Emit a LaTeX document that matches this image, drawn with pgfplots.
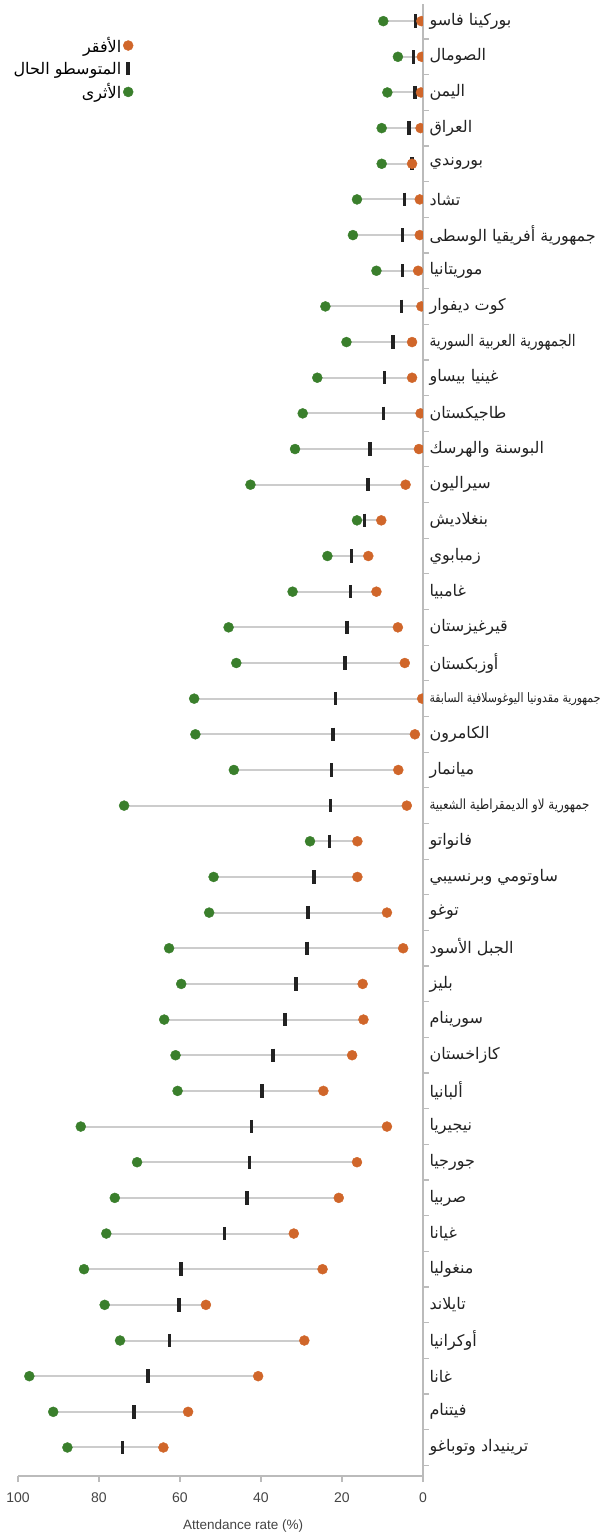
\documentclass[border=0pt]{standalone}
\usepackage{pgfplots}
\pgfplotsset{compat=1.18}
\usepackage{pgfplotstable}
\usepackage{fontspec}
\setmainfont{Liberation Sans}
\newfontfamily\arabicfont[Script=Arabic]{DejaVu Sans}
\TeXXeTstate=1
\definecolor{cgreen}{HTML}{3A7F2C}
\definecolor{corange}{HTML}{D0662A}
\definecolor{cbar}{HTML}{222222}
\definecolor{caxis}{HTML}{BBBBBB}
\definecolor{ctext}{HTML}{444444}

\pgfplotstableread{
idx rich mean poor
0 9.8 1.8 0.4
1 6.2 2.3 0.3
2 8.8 2.0 0.5
3 10.2 3.5 0.6
4 10.2 2.7 2.7
5 16.3 4.6 0.8
6 17.3 5.0 0.8
7 11.5 5.0 1.2
8 24.1 5.3 0.4
9 18.9 7.4 2.7
10 26.1 9.5 2.7
11 29.7 9.8 0.6
12 31.6 13.1 1.0
13 42.6 13.6 4.3
14 16.3 14.4 10.3
15 23.6 17.6 13.5
16 32.2 17.9 11.5
17 48.0 18.8 6.2
18 46.1 19.3 4.5
19 56.5 21.6 0.2
20 56.2 22.2 2.0
21 46.7 22.6 6.1
22 73.8 22.9 4.0
23 27.9 23.1 16.2
24 51.7 26.9 16.2
25 52.8 28.4 8.9
26 62.7 28.6 4.9
27 59.7 31.4 14.9
28 63.9 34.1 14.7
29 61.1 37.0 17.5
30 60.6 39.8 24.6
31 84.5 42.3 8.9
32 70.6 42.8 16.3
33 76.1 43.5 20.8
34 78.2 49.0 31.9
35 83.7 59.7 24.8
36 78.6 60.3 53.6
37 74.8 62.6 29.3
38 97.2 67.9 40.7
39 91.3 71.4 58.0
40 87.8 74.2 64.1
}\data

\begin{document}
\begin{tikzpicture}
\begin{axis}[
  at={(0,0)}, anchor=south west,
  scale only axis, width=405pt, height=1472pt,
  x dir=reverse, xmin=0, xmax=100,
  y dir=reverse, ymin=-0.48, ymax=40.8,
  clip marker paths=true,
  axis x line*=bottom, axis y line*=right,
  axis line style={caxis, line width=1.2pt},
  tick align=outside,
  tick style={caxis, line width=1.2pt},
  major tick length=6pt, minor tick length=6pt,
  xtick={0,20,...,100},
  /pgf/number format/assume math mode=true,
  xticklabel style={font=\fontsize{14}{16}\selectfont, text=ctext, yshift=-7pt},
  xlabel={Attendance rate (\%)},
  x label style={at={(axis description cs:0.556,0)}, anchor=north, inner sep=0pt, yshift=-43pt, font=\fontsize{13.5}{15}\selectfont, text=ctext},
  ytick={0,...,40},
  minor ytick={0.5,1.5,...,40.5},
  major y tick style={draw=none},
  yticklabel style={font=\arabicfont\fontsize{16}{19}\selectfont, text=cbar, anchor=west, xshift=-3pt},
  yticklabels={
    {\beginR بوركينا فاسو\endR},
    {\beginR الصومال\endR},
    {\beginR اليمن\endR},
    {\beginR العراق\endR},
    {\beginR بوروندي\endR},
    {\beginR تشاد\endR},
    {\beginR جمهورية أفريقيا الوسطى\endR},
    {\beginR موريتانيا\endR},
    {\beginR كوت ديفوار\endR},
    {\resizebox{146pt}{\height}{\beginR الجمهورية العربية السورية\endR}},
    {\beginR غينيا بيساو\endR},
    {\beginR طاجيكستان\endR},
    {\beginR البوسنة والهرسك\endR},
    {\beginR سيراليون\endR},
    {\beginR بنغلاديش\endR},
    {\beginR زمبابوي\endR},
    {\beginR غامبيا\endR},
    {\beginR قيرغيزستان\endR},
    {\beginR أوزبكستان\endR},
    {\resizebox{171pt}{\height}{\fontsize{13}{15}\selectfont\beginR جمهورية مقدونيا اليوغوسلافية السابقة\endR}},
    {\beginR الكامرون\endR},
    {\beginR ميانمار\endR},
    {\resizebox{160pt}{\height}{\fontsize{14}{16}\selectfont\beginR جمهورية لاو الديمقراطية الشعبية\endR}},
    {\beginR فانواتو\endR},
    {\beginR ساوتومي وبرنسيبي\endR},
    {\beginR توغو\endR},
    {\beginR الجبل الأسود\endR},
    {\beginR بليز\endR},
    {\beginR سورينام\endR},
    {\beginR كازاخستان\endR},
    {\beginR ألبانيا\endR},
    {\beginR نيجيريا\endR},
    {\beginR جورجيا\endR},
    {\beginR صربيا\endR},
    {\beginR غيانا\endR},
    {\beginR منغوليا\endR},
    {\beginR تايلاند\endR},
    {\beginR أوكرانيا\endR},
    {\beginR غانا\endR},
    {\beginR فيتنام\endR},
    {\beginR ترينيداد وتوباغو\endR}
  },
  legend style={at={(axis description cs:0.285,0.979)}, anchor=north east, draw=none, fill=none,
    font=\arabicfont\fontsize{16}{19}\selectfont, row sep=4pt, inner sep=0pt},
  legend cell align=right, legend plot pos=right, reverse legend,
]
\addplot[forget plot, draw=none, mark=none,
  error bars/.cd, x dir=both, x explicit, error mark=none,
  error bar style={draw=gray!40, line width=2pt}]
  table[x=mean, y=idx, x error plus expr=\thisrow{rich}-\thisrow{mean}, x error minus expr=\thisrow{mean}-\thisrow{poor}] {\data};
\addplot[only marks, mark=*, mark size=5pt, color=cgreen] table[x=rich, y=idx] {\data};
\addlegendentry{\beginR الأثرى\endR}
\addplot[only marks, mark=|, mark size=6.7pt, line width=3.5pt, color=cbar] table[x=mean, y=idx] {\data};
\addlegendentry{\beginR المتوسطو الحال\endR}
\addplot[only marks, mark=*, mark size=5pt, color=corange] table[x=poor, y=idx] {\data};
\addlegendentry{\beginR الأفقر\endR}
\end{axis}
\pgfresetboundingbox
\path[use as bounding box] (-18pt,-58pt) rectangle (587pt,1476pt);
\end{tikzpicture}
\end{document}
